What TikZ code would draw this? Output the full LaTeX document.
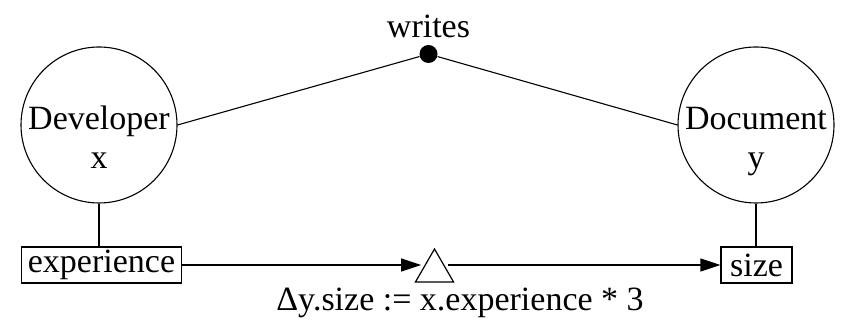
\documentclass[tikz,border=0pt]{standalone}
\usepackage{fontspec}
\setmainfont{Liberation Serif}
\usetikzlibrary{arrows.meta,positioning,shapes.geometric}

\tikzset{
  entity/.style={circle,draw,line width=0.55pt,minimum size=78pt,inner sep=0pt,
    text height=0.68em,text depth=0.22em},
  attr/.style={rectangle,draw,line width=0.6pt,minimum height=18pt,inner xsep=3.3pt,inner ysep=0pt},
  flow/.style={-{Triangle[length=10pt,width=6.5pt]},line width=0.6pt}
}

\begin{document}
\begin{tikzpicture}[x=0.5pt,y=0.5pt,font=\fontsize{17}{20}\selectfont]
  \useasboundingbox (0,0) rectangle (846,325);
  % the two entities and their relation
  \node[entity] (dev) at (99,200) {Developer};
  \node[anchor=base] (devvar) at ([yshift=-19.5pt]dev.base) {x};
  \node[entity] (doc) at (756,200) {Document};
  \node[anchor=base] (docvar) at ([yshift=-19.5pt]doc.base) {y};
  \node[circle,fill,inner sep=0pt,minimum size=9pt] (wr) at (428.5,271) {};
  \node[above=0pt of wr] (wrlbl) {writes};
  \draw[line width=0.55pt] (dev.east) -- (wr) -- (doc.west);
  % attributes
  \node[attr] (exp) at (101.5,60) {experience};
  \node[attr,minimum width=35.5pt] (sz) at (756.5,60) {size};
  \draw[line width=0.6pt] (dev.south) -- (dev.south |- exp.north);
  \draw[line width=0.6pt] (doc.south) -- (doc.south |- sz.north);
  % update rule
  \node[regular polygon,regular polygon sides=3,draw,line width=0.6pt,
    minimum size=22pt,inner sep=0pt] (tri) at (434.5,54) {};
  \draw[flow] (exp) -- (exp -| tri.west);
  \draw[flow] (tri.east |- sz) -- (sz);
  \node (rule) at (460,22) {Δy.size := x.experience * 3};
\end{tikzpicture}
\end{document}
